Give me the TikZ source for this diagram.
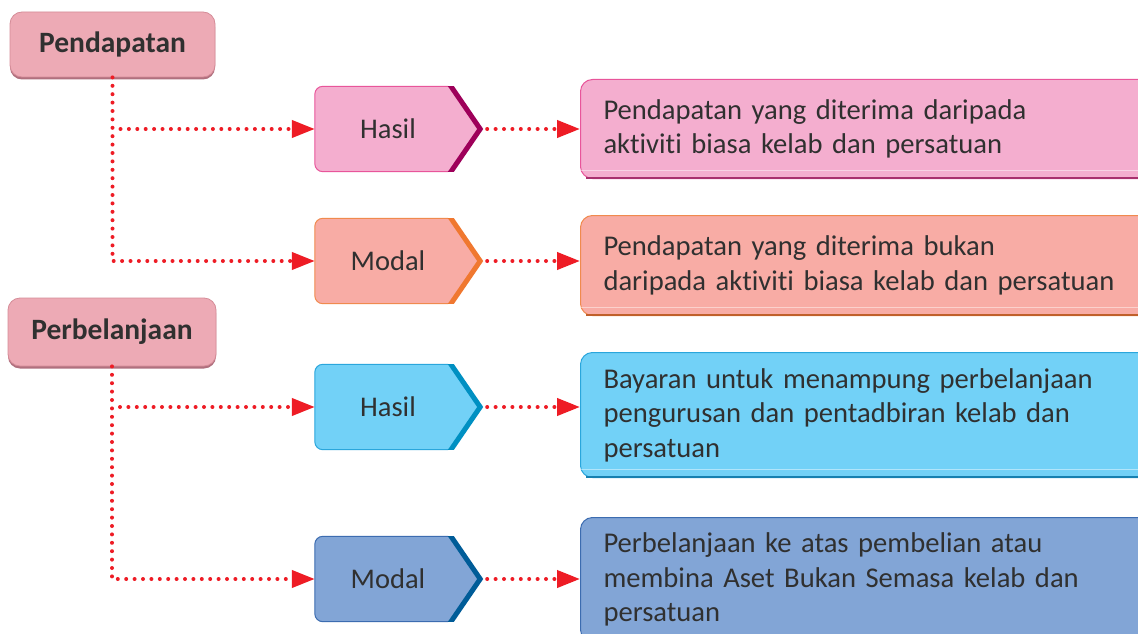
\documentclass[tikz,border=0pt]{standalone}
\usepackage{fontspec}
\setmainfont{Carlito}[Ligatures={NoCommon}]
\usetikzlibrary{arrows.meta,calc}
\definecolor{txt}{HTML}{303030}
\definecolor{dotred}{HTML}{EE1C25}
\definecolor{headfill}{HTML}{EDAAB5}
\definecolor{headdraw}{HTML}{D58C98}
\definecolor{headshadow}{HTML}{B0707E}
\definecolor{pinkfill}{HTML}{F4AECF}
\definecolor{pinkline}{HTML}{E8559A}
\definecolor{pinkdark}{HTML}{9E005A}
\definecolor{pinkshadow}{HTML}{A8306E}
\definecolor{salmfill}{HTML}{F8ACA5}
\definecolor{salmline}{HTML}{F08A4E}
\definecolor{salmdark}{HTML}{F07830}
\definecolor{salmshadow}{HTML}{C0602A}
\definecolor{cyanfill}{HTML}{72D1F7}
\definecolor{cyanline}{HTML}{2AA6DC}
\definecolor{cyandark}{HTML}{0090C2}
\definecolor{cyanshadow}{HTML}{1680B0}
\definecolor{bluefill}{HTML}{82A5D6}
\definecolor{blueline}{HTML}{3C6CB0}
\definecolor{bluedark}{HTML}{005C98}
\definecolor{blueshadow}{HTML}{24508A}
\tikzset{
  headbox/.style={rectangle, rounded corners=12pt, fill=headfill, draw=headdraw, line width=0.8pt,
    font=\fontsize{29.5}{31}\selectfont\bfseries, text=txt},
  chevbox/.style={rectangle, minimum width=164pt, minimum height=85pt, inner sep=0pt},
  chevlabel/.style={font=\fontsize{28.5}{30}\selectfont, text=txt},
  descbox/.style={rectangle, rounded corners=12pt, anchor=north west, minimum width=580pt,
    text width=540pt, inner xsep=23pt, align=left, line width=1pt,
    font=\fontsize{28.6}{34.5}\selectfont, text=txt},
  dotline/.style={dotred, line width=4pt, line cap=round, dash pattern=on 0pt off 8.4pt,
    -{Triangle[length=23pt,width=17pt]}},
}
\newcommand{\chev}[4]{% node, fill, line, dark
  \fill[#2] ($(#1.north east)+(-31,0)$) -- (#1.east) -- ($(#1.south east)+(-31,0)$)
     [rounded corners=8pt] -- (#1.south west) -- (#1.north west) [sharp corners] -- cycle;
  \draw[#3, line width=1pt, rounded corners=8pt] ($(#1.south east)+(-31,0)$) -- (#1.south west)
     -- (#1.north west) -- ($(#1.north east)+(-31,0)$);
  \begin{scope}
    \clip (#1.north west) rectangle ($(#1.south east)+(5,0)$);
    \draw[#4, line width=5pt, line join=miter] ($(#1.north east)+(-31,-4)$) -- ($(#1.east)+(1,0)$)
       -- ($(#1.south east)+(-31,4)$);
  \end{scope}
}
\newcommand{\descshade}[2]{% node, shadow colour
  \draw[#2, line width=2pt] ($(#1.south west)+(6,-1)$) -- ($(#1.south east)+(0,-1)$);
  \draw[white, opacity=0.45, line width=1pt] ($(#1.south west)+(1,-9)$) -- ($(#1.south east)+(0,-9)$);
}
\begin{document}
\begin{tikzpicture}[x=1pt,y=-1pt]
\clip (0,0) rectangle (1138,634);
\fill[white] (0,0) rectangle (1138,634);

% header boxes
\fill[headshadow, rounded corners=12pt] (10,15) rectangle (215,79.5);
\node[headbox, minimum width=205pt, minimum height=65pt] (pen) at (112.5,44.5) {Pendapatan};
\fill[headshadow, rounded corners=12pt] (8,301) rectangle (216,368.5);
\node[headbox, minimum width=208pt, minimum height=68pt] (per) at (112,332) {Perbelanjaan};

% chevrons
\node[chevbox] (h1) at (397,129) {};
\chev{h1}{pinkfill}{pinkline}{pinkdark}
\node[chevlabel] (h1t) at (388,129) {Hasil};
\node[chevbox] (m1) at (397,261) {};
\chev{m1}{salmfill}{salmline}{salmdark}
\node[chevlabel] (m1t) at (388,261) {Modal};
\node[chevbox] (h2) at (397,407) {};
\chev{h2}{cyanfill}{cyanline}{cyandark}
\node[chevlabel] (h2t) at (388,407) {Hasil};
\node[chevbox] (m2) at (397,579) {};
\chev{m2}{bluefill}{blueline}{bluedark}
\node[chevlabel] (m2t) at (388,579) {Modal};

% description boxes
\node[descbox, fill=pinkfill, draw=pinkline, minimum height=99pt] (d1) at (580,79)
  {Pendapatan yang diterima daripada\\aktiviti biasa kelab dan persatuan};
\descshade{d1}{pinkshadow}
\node[descbox, fill=salmfill, draw=salmline, minimum height=100pt] (d2) at (580,215)
  {Pendapatan yang diterima bukan\\daripada aktiviti biasa kelab dan persatuan};
\descshade{d2}{salmshadow}
\node[descbox, fill=cyanfill, draw=cyanline, minimum height=125pt] (d3) at (580,352)
  {Bayaran untuk menampung perbelanjaan\\pengurusan dan pentadbiran kelab dan\\persatuan};
\descshade{d3}{cyanshadow}
\node[descbox, fill=bluefill, draw=blueline, minimum height=124pt] (d4) at (580,517)
  {Perbelanjaan ke atas pembelian atau\\membina Aset Bukan Semasa kelab dan\\persatuan};

% connectors
\draw[dotline] (pen.south) |- (m1.west);
\draw[dotline] ($(pen.south |- h1.west)+(8,0)$) -- (h1.west);
\draw[dotline] (per.south) |- (m2.west);
\draw[dotline] ($(per.south |- h2.west)+(8,0)$) -- (h2.west);
\draw[dotline] ($(h1.east)+(8,0)$) -- (d1.west |- h1.east);
\draw[dotline] ($(m1.east)+(8,0)$) -- (d2.west |- m1.east);
\draw[dotline] ($(h2.east)+(8,0)$) -- (d3.west |- h2.east);
\draw[dotline] ($(m2.east)+(8,0)$) -- (d4.west |- m2.east);
\end{tikzpicture}
\end{document}
